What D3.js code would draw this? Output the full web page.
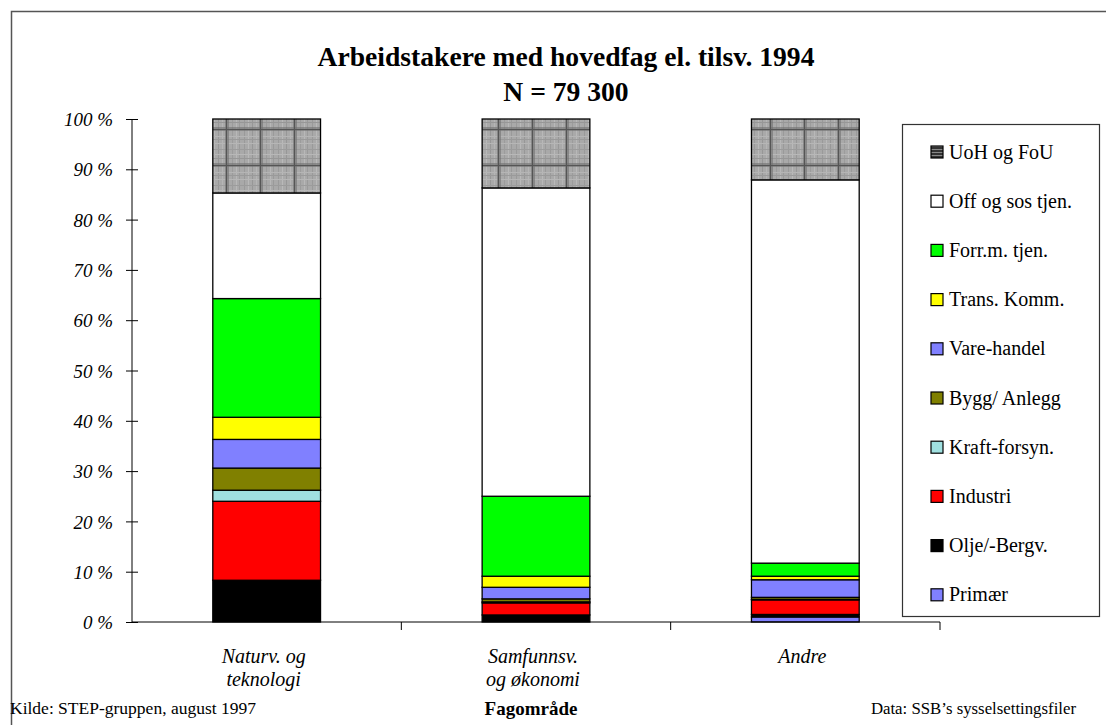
<!DOCTYPE html>
<html>
<head>
<meta charset="utf-8">
<script src="https://cdn.jsdelivr.net/npm/d3@7"></script>
<style>
  body { margin: 0; background: #fff; }
  svg { display: block; }
  text { font-family: "Liberation Serif", "Times New Roman", serif; }
</style>
</head>
<body>
<div id="vis"></div>
<script>
// chart data (percent of employees per field)
const categories = ["Naturv. og\nteknologi", "Samfunnsv.\nog økonomi", "Andre"];
const series = ["Primær", "Olje/-Bergv.", "Industri", "Kraft-forsyn.", "Bygg/ Anlegg",
                "Vare-handel", "Trans. Komm.", "Forr.m. tjen.", "Off og sos tjen.", "UoH og FoU"];
const primaer  = [0.0, 0.0, 1.0];
const olje     = [8.3, 1.4, 0.5];
const industri = [15.7, 2.4, 2.9];
const kraft    = [2.2, 0.2, 0.1];
const bygg     = [4.4, 0.6, 0.4];
const vare     = [5.7, 2.3, 3.5];
const trans    = [4.4, 2.2, 0.7];
const forr     = [23.6, 15.9, 2.6];
const off      = [21.0, 61.3, 76.2];
const uoh      = [14.7, 13.7, 12.1];
const yTicks = [0, 10, 20, 30, 40, 50, 60, 70, 80, 90, 100];

const values = [primaer, olje, industri, kraft, bygg, vare, trans, forr, off, uoh];
const colors = ["#8080ff", "#000000", "#ff0000", "#a0e0e0", "#808000",
                "#8080ff", "#ffff00", "#00ff00", "#ffffff", "url(#uoh)"];

const WIDTH = 1106, HEIGHT = 725;
const PLOT = {left: 132, right: 940, top: 119, bottom: 622};
const SERIF = "Liberation Serif, Times New Roman, serif";

const svg = d3.select("#vis").append("svg")
  .attr("width", WIDTH).attr("height", HEIGHT)
  .attr("font-family", SERIF);

// pattern for the grey tartan-ish fill
const defs = svg.append("defs");
const pat = defs.append("pattern").attr("id", "uoh")
  .attr("patternUnits", "userSpaceOnUse")
  .attr("x", 4).attr("y", 2).attr("width", 34).attr("height", 36);
pat.append("rect").attr("width", 34).attr("height", 36).attr("fill", "#a9a9a9");
[[2, "#9a9a9a"], [6, "#b9b9b9"], [10, "#979797"], [14, "#b5b5b5"], [24, "#9c9c9c"], [28, "#b8b8b8"], [31, "#9a9a9a"]]
  .forEach(([x, c]) => pat.append("rect").attr("x", x).attr("y", 0).attr("width", 1).attr("height", 36).attr("fill", c));
[[3, "#9c9c9c"], [8, "#b8b8b8"], [12, "#979797"], [26, "#b5b5b5"], [29, "#9a9a9a"], [33, "#b6b6b6"]]
  .forEach(([y, c]) => pat.append("rect").attr("x", 0).attr("y", y).attr("width", 34).attr("height", 1).attr("fill", c));
pat.append("rect").attr("x", 17).attr("y", 0).attr("width", 4).attr("height", 36).attr("fill", "#707070").attr("opacity", 0.6);
pat.append("rect").attr("x", 0).attr("y", 17).attr("width", 34).attr("height", 4).attr("fill", "#707070").attr("opacity", 0.6);
pat.append("rect").attr("x", 18).attr("y", 0).attr("width", 1).attr("height", 36).attr("fill", "#555");
pat.append("rect").attr("x", 0).attr("y", 19).attr("width", 34).attr("height", 1).attr("fill", "#555");

const legPat = defs.append("pattern").attr("id", "uohLeg")
  .attr("patternUnits", "userSpaceOnUse").attr("width", 4).attr("height", 3);
legPat.append("rect").attr("width", 4).attr("height", 3).attr("fill", "#333");
legPat.append("rect").attr("y", 2).attr("width", 4).attr("height", 1).attr("fill", "#888");

// outer frame
svg.append("rect").attr("x", 11.5).attr("y", 11.5)
  .attr("width", 1200).attr("height", 800)
  .attr("fill", "none").attr("stroke", "#555").attr("stroke-width", 1.5);

// title
svg.append("text").attr("x", 566).attr("y", 66).attr("text-anchor", "middle")
  .attr("font-size", 27.6).attr("font-weight", "bold")
  .text("Arbeidstakere med hovedfag el. tilsv. 1994");
svg.append("text").attr("x", 566).attr("y", 101).attr("text-anchor", "middle")
  .attr("font-size", 27.6).attr("font-weight", "bold")
  .text("N = 79 300");

const x = d3.scaleBand().domain(categories).range([PLOT.left, PLOT.right]).paddingInner(0.6).paddingOuter(0.3);
const xAxisBand = d3.scaleBand().domain(categories).range([PLOT.left, PLOT.right]);
const y = d3.scaleLinear().domain([0, 100]).range([PLOT.bottom, PLOT.top]);

// stacked data
const rows = categories.map((c, i) => {
  const r = {cat: c};
  series.forEach((s, j) => { r[s] = values[j][i]; });
  return r;
});
const stacked = d3.stack().keys(series)(rows);

const g = svg.append("g");
g.selectAll("g.layer")
  .data(stacked)
  .enter().append("g")
    .attr("class", "layer")
    .attr("fill", (d, i) => colors[i])
  .selectAll("rect")
  .data(d => d)
  .enter().append("rect")
    .attr("x", d => x(d.data.cat))
    .attr("y", d => y(d[1]))
    .attr("width", x.bandwidth())
    .attr("height", d => y(d[0]) - y(d[1]))
    .attr("stroke", "#000")
    .attr("stroke-width", 1.3);

// y axis
const yAxis = svg.append("g")
  .attr("transform", "translate(" + PLOT.left + ",0)")
  .call(d3.axisLeft(y).tickValues(yTicks).tickSize(6).tickPadding(13).tickFormat(d => d + " %"))
  .attr("font-family", SERIF).attr("font-size", 19);
yAxis.selectAll(".tick line").attr("x1", -6).attr("x2", 6);
yAxis.select(".domain").attr("d", "M0," + y(100) + "V" + y(0)).attr("stroke", "#000");
yAxis.selectAll("text").attr("font-style", "italic").attr("fill", "#000").attr("dy", "0.35em");

// x axis
const xAxis = svg.append("g")
  .attr("transform", "translate(0," + PLOT.bottom + ")");
xAxis.append("line").attr("x1", PLOT.left).attr("x2", PLOT.right)
  .attr("stroke", "#000").attr("stroke-width", 1);
xAxis.selectAll("line.tk")
  .data(categories.slice(1).map(c => xAxisBand(c)).concat([PLOT.right]))
  .enter().append("line").attr("class", "tk")
  .attr("x1", d => d).attr("x2", d => d).attr("y1", 0).attr("y2", 8)
  .attr("stroke", "#000");

// category labels
categories.forEach(c => {
  const cx = xAxisBand(c) + xAxisBand.bandwidth() / 2;
  c.split("\n").forEach((line, k) => {
    svg.append("text").attr("x", cx - 3).attr("y", 663 + k * 23)
      .attr("text-anchor", "middle").attr("font-size", 20).attr("font-style", "italic")
      .text(line);
  });
});

// footer
svg.append("text").attr("x", 531).attr("y", 715).attr("text-anchor", "middle")
  .attr("font-size", 19).attr("font-weight", "bold").text("Fagområde");
svg.append("text").attr("x", 10).attr("y", 714).attr("font-size", 17.5)
  .text("Kilde: STEP-gruppen, august 1997");
svg.append("text").attr("x", 1076).attr("y", 714).attr("text-anchor", "end").attr("font-size", 16.8)
  .text("Data: SSB’s sysselsettingsfiler");

// legend
const legend = svg.append("g");
legend.append("rect").attr("x", 902.5).attr("y", 124.5).attr("width", 197).attr("height", 492)
  .attr("fill", "#fff").attr("stroke", "#333").attr("stroke-width", 1.2);
const legOrder = series.map((s, i) => i).reverse();
legOrder.forEach((idx, k) => {
  const ly = 152 + k * 49.2;
  legend.append("rect").attr("x", 931).attr("y", ly - 6).attr("width", 12).attr("height", 12)
    .attr("fill", idx === 9 ? "url(#uohLeg)" : colors[idx])
    .attr("stroke", "#000").attr("stroke-width", 1.2);
  legend.append("text").attr("x", 949).attr("y", ly + 6.5).attr("font-size", 20)
    .text(series[idx]);
});
</script>
</body>
</html>
